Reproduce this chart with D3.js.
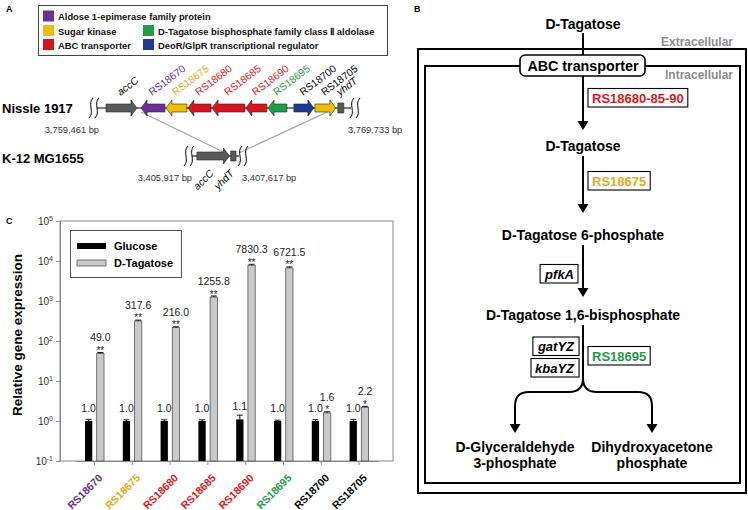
<!DOCTYPE html>
<html lang="en">
<head>
<meta charset="UTF-8">
<title>D-Tagatose operon figure</title>
<script src="https://d3js.org/d3.v7.min.js"></script>
<style>
  body { margin: 0; background: #fff; }
  svg { font-family: "Liberation Sans", Arial, sans-serif; }
</style>
</head>
<body>
<script>
// ---------- Panel A data (gene map, positions in bp from region start) ----------
var legendLabels = ["Aldose 1-epimerase family protein", "Sugar kinase",
  "D-Tagatose bisphosphate family class \u2161 aldolase", "ABC transporter",
  "DeoR/GlpR transcriptional regulator"];
var legendColors = ["#6b2f96", "#f0bf00", "#1f9e47", "#d9141e", "#1d3b94"];

var nissleNames  = ["accC", "RS18670", "RS18675", "RS18680", "RS18685", "RS18690", "RS18695", "RS18700", "RS18705", "yhdT"];
var nissleStart  = [250, 1700, 2730, 3640, 4640, 6040, 6960, 8030, 8900, 9850];
var nissleEnd    = [1530, 2690, 3600, 4600, 6000, 6910, 7740, 8860, 9770, 10100];
var nissleStrand = [1, -1, -1, -1, -1, -1, -1, 1, 1, 0];
var nissleFill   = ["#5a5a5a", "#6b2f96", "#f0bf00", "#d9141e", "#d9141e", "#d9141e", "#1f9e47", "#1d3b94", "#f0bf00", "#5a5a5a"];
var nissleText   = ["#000", "#6a2c91", "#e0ac1c", "#d7191c", "#d7191c", "#d7191c", "#1f9a48", "#000", "#000", "#000"];
var nissleRange  = ["3,759,461 bp", "3,769,733 bp"];

var k12Names  = ["accC", "yhdT"];
var k12Start  = [80, 1480];
var k12End    = [1430, 1700];
var k12Strand = [1, 0];
var k12Range  = ["3,405,917 bp", "3,407,617 bp"];

// ---------- Panel B data ----------
var metabolites = ["D-Tagatose", "D-Tagatose", "D-Tagatose 6-phosphate", "D-Tagatose 1,6-bisphosphate"];
var products = [["D-Glyceraldehyde", "3-phosphate"], ["Dihydroxyacetone", "phosphate"]];
var enzymeNames  = ["RS18680-85-90", "RS18675", "pfkA", "gatYZ", "kbaYZ", "RS18695"];
var enzymeColors = ["#d7191c", "#e0ac1c", "#000", "#000", "#000", "#1f9a48"];
var enzymeItalic = [false, false, true, true, true, false];

// ---------- Panel C data ----------
var genes = ["RS18670", "RS18675", "RS18680", "RS18685", "RS18690", "RS18695", "RS18700", "RS18705"];
var geneColors = ["#6a2c91", "#e0ac1c", "#d7191c", "#d7191c", "#d7191c", "#1f9a48", "#000", "#000"];
var glucose    = [1.0, 1.0, 1.0, 1.0, 1.1, 1.0, 1.0, 1.0];
var glucoseErr = [0.10, 0.07, 0.07, 0.07, 0.30, 0.05, 0.08, 0.10];
var tagatose    = [49.0, 317.6, 216.0, 1255.8, 7830.3, 6721.5, 1.6, 2.2];
var tagatoseErr = [2.5, 15, 10, 80, 450, 400, 0.1, 0.12];
var stars = ["**", "**", "**", "**", "**", "**", "*", "*"];
var yTickPowers = [-1, 0, 1, 2, 3, 4, 5];
var seriesNames = ["Glucose", "D-Tagatose"];

var svg = d3.select("body").append("svg")
    .attr("width", 748).attr("height", 510);

// panel letters
svg.append("text").attr("x", 6).attr("y", 12).text("A").style("font-size", "9px").style("font-weight", "bold");
svg.append("text").attr("x", 414).attr("y", 12).text("B").style("font-size", "9px").style("font-weight", "bold");
svg.append("text").attr("x", 6).attr("y", 224).text("C").style("font-size", "9px").style("font-weight", "bold");

// ================= Panel A =================
var gA = svg.append("g");
gA.append("rect").attr("x", 38.5).attr("y", 5.5).attr("width", 349).attr("height", 50)
  .attr("fill", "#fff").attr("stroke", "#444").attr("stroke-width", 1);

var legendPos = [[0, 0], [0, 1], [1, 1], [0, 2], [1, 2]];
var legendColX = [43, 143], legendRowY = [10.5, 25, 39];
legendLabels.forEach(function(lab, i) {
  var p = legendPos[i];
  gA.append("rect").attr("x", legendColX[p[0]]).attr("y", legendRowY[p[1]])
    .attr("width", 11).attr("height", 11).attr("fill", legendColors[i]);
  gA.append("text").attr("x", legendColX[p[0]] + 15).attr("y", legendRowY[p[1]] + 9.5)
    .text(lab).style("font-size", "9.4px").style("font-weight", "bold").attr("fill", "#111");
});

function genePath(s, e, strand) {
  var h = 4, H = 8, hd = 6;
  if (strand === 1) return "M" + s + "," + (-h) + "L" + (e - hd) + "," + (-h) + "L" + (e - hd) + "," + (-H) +
    "L" + e + ",0L" + (e - hd) + "," + H + "L" + (e - hd) + "," + h + "L" + s + "," + h + "Z";
  if (strand === -1) return "M" + e + "," + (-h) + "L" + (s + hd) + "," + (-h) + "L" + (s + hd) + "," + (-H) +
    "L" + s + ",0L" + (s + hd) + "," + H + "L" + (s + hd) + "," + h + "L" + e + "," + h + "Z";
  return "M" + s + ",-5L" + e + ",-5L" + e + ",5L" + s + ",5Z";
}

function squiggle(g, x) {
  g.append("path")
    .attr("d", "M" + (x + 2) + ",-10 C" + (x - 4) + ",-4 " + (x + 4) + ",4 " + (x - 2) + ",10")
    .attr("fill", "none").attr("stroke", "#000").attr("stroke-width", 1);
}

var xN = d3.scaleLinear().domain([0, 10272]).range([100, 348]);
var xK = d3.scaleLinear().domain([0, 1700]).range([195, 236]);
var yN = 108, yK = 156;

// connecting lines
gA.append("line").attr("x1", xN(nissleStart[1])).attr("y1", yN + 4)
  .attr("x2", xK(k12End[0]) - 4).attr("y2", yK - 3)
  .attr("stroke", "#a6a6a6").attr("stroke-width", 1.3);
gA.append("line").attr("x1", xN(nissleEnd[8])).attr("y1", yN)
  .attr("x2", xK(k12End[1]) + 3).attr("y2", yK - 3)
  .attr("stroke", "#a6a6a6").attr("stroke-width", 1.3);

function drawTrack(g, x, names, starts, ends, strands, fills) {
  var dom = x.domain();
  g.append("line").attr("x1", x(dom[0]) - 3).attr("x2", x(dom[1]) + 3)
    .attr("y1", 0).attr("y2", 0).attr("stroke", "#000").attr("stroke-width", 1);
  names.forEach(function(n, i) {
    g.append("path").attr("d", genePath(x(starts[i]), x(ends[i]), strands[i]))
      .attr("fill", fills[i]).attr("stroke", "#222").attr("stroke-width", 0.6);
  });
  squiggle(g, x(dom[0]) - 9); squiggle(g, x(dom[0]) - 3);
  squiggle(g, x(dom[1]) + 4); squiggle(g, x(dom[1]) + 10);
}

var tN = gA.append("g").attr("transform", "translate(0," + yN + ")");
drawTrack(tN, xN, nissleNames, nissleStart, nissleEnd, nissleStrand, nissleFill);
var tK = gA.append("g").attr("transform", "translate(0," + yK + ")");
drawTrack(tK, xK, k12Names, k12Start, k12End, k12Strand, ["#5a5a5a", "#5a5a5a"]);

// gene labels (Nissle, above)
nissleNames.forEach(function(n, i) {
  var mx = xN((nissleStart[i] + nissleEnd[i]) / 2) - 1;
  gA.append("text").attr("transform", "translate(" + mx + ",96) rotate(-37)")
    .text(n).attr("fill", nissleText[i]).style("font-size", "10.3px")
    .style("font-style", (n === "accC" || n === "yhdT") ? "italic" : "normal");
});
// gene labels (K-12, below)
k12Names.forEach(function(n, i) {
  var mx = xK((k12Start[i] + k12End[i]) / 2) + 1;
  gA.append("text").attr("transform", "translate(" + mx + ",174) rotate(-45)")
    .attr("text-anchor", "end").text(n).style("font-size", "10.3px").style("font-style", "italic");
});

gA.append("text").attr("x", 2).attr("y", 112.5).text("Nissle 1917").style("font-size", "13px").style("font-weight", "bold");
gA.append("text").attr("x", 2).attr("y", 162.5).text("K-12 MG1655").style("font-size", "13px").style("font-weight", "bold");

gA.append("text").attr("x", xN(0) - 1).attr("y", 133).attr("text-anchor", "end").text(nissleRange[0]).style("font-size", "9.3px").attr("fill", "#333");
gA.append("text").attr("x", xN(10272)).attr("y", 133).text(nissleRange[1]).style("font-size", "9.3px").attr("fill", "#333");
gA.append("text").attr("x", xK(0) - 3).attr("y", 181).attr("text-anchor", "end").text(k12Range[0]).style("font-size", "9.3px").attr("fill", "#333");
gA.append("text").attr("x", xK(1700) + 6).attr("y", 181).text(k12Range[1]).style("font-size", "9.3px").attr("fill", "#333");

// ================= Panel B =================
var gB = svg.append("g");
var cx = 583;
gB.append("rect").attr("x", 418).attr("y", 49).attr("width", 328).attr("height", 444)
  .attr("fill", "none").attr("stroke", "#000").attr("stroke-width", 2);
gB.append("rect").attr("x", 425).attr("y", 66).attr("width", 315).attr("height", 417)
  .attr("fill", "none").attr("stroke", "#000").attr("stroke-width", 2);
gB.append("text").attr("x", 733).attr("y", 45.5).attr("text-anchor", "end").text("Extracellular")
  .attr("fill", "#8c8c8c").style("font-size", "12px").style("font-weight", "bold");
gB.append("text").attr("x", 733).attr("y", 78.5).attr("text-anchor", "end").text("Intracellular")
  .attr("fill", "#8c8c8c").style("font-size", "12px").style("font-weight", "bold");

function arrowHead(g, x, y) {
  g.append("path").attr("d", "M" + (x - 5.5) + "," + (y - 9) + "L" + (x + 5.5) + "," + (y - 9) + "L" + x + "," + y + "Z")
    .attr("fill", "#000");
}
function vline(g, x, y1, y2) {
  g.append("line").attr("x1", x).attr("x2", x).attr("y1", y1).attr("y2", y2)
    .attr("stroke", "#000").attr("stroke-width", 2);
}

var stepY = [29, 151, 240, 320];
vline(gB, cx, 33, 56);
vline(gB, cx, 76, 122); arrowHead(gB, cx, 130);
vline(gB, cx, 156, 205); arrowHead(gB, cx, 213);
vline(gB, cx, 245, 289); arrowHead(gB, cx, 297);
vline(gB, cx, 325, 380);
// branch
gB.append("path").attr("d", "M" + cx + ",378 Q" + cx + ",392 " + (cx - 14) + ",392 H" + 529 + " Q515,392 515,406 V425")
  .attr("fill", "none").attr("stroke", "#000").attr("stroke-width", 2);
gB.append("path").attr("d", "M" + cx + ",378 Q" + cx + ",392 " + (cx + 14) + ",392 H" + 638 + " Q652,392 652,406 V425")
  .attr("fill", "none").attr("stroke", "#000").attr("stroke-width", 2);
arrowHead(gB, 515, 433);
arrowHead(gB, 652, 433);

// ABC transporter box
gB.append("rect").attr("x", 520).attr("y", 55).attr("width", 125).attr("height", 21).attr("rx", 5)
  .attr("fill", "#fff").attr("stroke", "#000").attr("stroke-width", 1.6);
gB.append("text").attr("x", cx).attr("y", 71).attr("text-anchor", "middle").text("ABC transporter")
  .style("font-size", "14.3px").style("font-weight", "bold");

metabolites.forEach(function(m, i) {
  gB.append("text").attr("x", cx).attr("y", stepY[i]).attr("text-anchor", "middle").text(m)
    .style("font-size", "14px").style("font-weight", "bold");
});
var prodX = [515, 652];
products.forEach(function(p, i) {
  p.forEach(function(line, j) {
    gB.append("text").attr("x", prodX[i]).attr("y", 452 + j * 16).attr("text-anchor", "middle").text(line)
      .style("font-size", "14px").style("font-weight", "bold");
  });
});

// enzyme boxes: [x, baseline, anchor]
var enzPos = [[592, 102.5, "start"], [592, 185.5, "start"], [574, 278.5, "end"], [574, 351, "end"], [574, 372.5, "end"], [592, 360.5, "start"]];
enzymeNames.forEach(function(n, i) {
  var p = enzPos[i];
  var t = gB.append("text").attr("x", p[0]).attr("y", p[1]).attr("text-anchor", p[2]).text(n)
    .attr("fill", enzymeColors[i]).style("font-size", "13px").style("font-weight", "bold")
    .style("font-style", enzymeItalic[i] ? "italic" : "normal");
  var bb = t.node().getBBox();
  gB.insert("rect", "text").attr("x", bb.x - 4).attr("y", p[1] - 14).attr("width", bb.width + 8).attr("height", 18.5)
    .attr("fill", "#fff").attr("stroke", "#000").attr("stroke-width", 1.1);
});

// ================= Panel C =================
var gC = svg.append("g");
var plotL = 60, plotR = 393, plotT = 221, plotB = 461;
var y = d3.scaleLog().domain([0.1, 1e5]).range([plotB, plotT]);
var x = d3.scaleBand().domain(genes).range([75.6, 378]);
var xs = d3.scaleBand().domain(seriesNames).range([9.4, 28.4]).paddingInner(0.38);

// frame
gC.append("rect").attr("x", plotL).attr("y", plotT).attr("width", plotR - plotL).attr("height", plotB - plotT)
  .attr("fill", "none").attr("stroke", "#8a8a8a").attr("stroke-width", 1);

var yAxis = gC.append("g").attr("transform", "translate(" + plotL + ",0)")
  .call(d3.axisLeft(y).tickValues(yTickPowers.map(function(p) { return Math.pow(10, p); }))
    .tickSize(4).tickSizeOuter(0).tickFormat(""));
yAxis.selectAll("path, line").attr("stroke", "#8a8a8a");
yAxis.selectAll(".tick").each(function(d, i) {
  var t = d3.select(this).append("text").attr("x", -7).attr("dy", "0.35em")
    .attr("text-anchor", "end").attr("fill", "#333").style("font-size", "10px");
  t.append("tspan").text("10");
  t.append("tspan").text(yTickPowers[i]).attr("dy", "-0.55em").style("font-size", "7px");
});

var xAxis = gC.append("g").attr("transform", "translate(0," + plotB + ")")
  .call(d3.axisBottom(x).tickSize(4).tickSizeOuter(0));
xAxis.select(".domain").attr("stroke", "#8a8a8a");
xAxis.selectAll("line").attr("stroke", "#8a8a8a");
xAxis.selectAll("text")
  .attr("x", 0).attr("y", 0).attr("dy", "0.35em")
  .attr("transform", "translate(6,15) rotate(-45)")
  .style("text-anchor", "end").style("font-size", "10.6px").style("font-weight", "bold")
  .style("font-family", "'Liberation Sans', Arial, sans-serif")
  .attr("fill", function(d, i) { return geneColors[i]; });

// bars
var groups = gC.selectAll(".grp").data(genes).enter().append("g")
  .attr("transform", function(d) { return "translate(" + x(d) + ",0)"; });

groups.append("rect")
  .attr("x", xs("Glucose")).attr("width", xs.bandwidth())
  .attr("y", function(d, i) { return y(glucose[i]); })
  .attr("height", function(d, i) { return plotB - y(glucose[i]); })
  .attr("fill", "#000");
groups.append("rect")
  .attr("x", xs("D-Tagatose")).attr("width", xs.bandwidth())
  .attr("y", function(d, i) { return y(tagatose[i]); })
  .attr("height", function(d, i) { return plotB - y(tagatose[i]); })
  .attr("fill", "#c9c9c9").attr("stroke", "#555").attr("stroke-width", 0.8);

function errBar(sel, series, vals, errs) {
  var cxs = xs(series) + xs.bandwidth() / 2;
  sel.append("path").attr("d", function(d, i) {
    var y1 = y(vals[i] + errs[i]), y0 = y(vals[i]);
    return "M" + cxs + "," + y0 + "V" + y1 + "M" + (cxs - 3) + "," + y1 + "H" + (cxs + 3);
  }).attr("stroke", "#000").attr("stroke-width", 0.9).attr("fill", "none");
}
errBar(groups, "Glucose", glucose, glucoseErr);
errBar(groups, "D-Tagatose", tagatose, tagatoseErr);

groups.append("text")
  .attr("x", xs("Glucose") + xs.bandwidth() / 2)
  .attr("y", function(d, i) { return y(glucose[i]) - 9; })
  .attr("text-anchor", "middle").attr("fill", "#222").style("font-size", "10.5px")
  .text(function(d, i) { return glucose[i].toFixed(1); });
groups.append("text")
  .attr("x", xs("D-Tagatose") + xs.bandwidth() / 2)
  .attr("y", function(d, i) { return y(tagatose[i]) - 12; })
  .attr("text-anchor", "middle").attr("fill", "#222").style("font-size", "10.5px")
  .text(function(d, i) { return tagatose[i].toFixed(1); });
groups.append("text")
  .attr("x", xs("D-Tagatose") + xs.bandwidth() / 2)
  .attr("y", function(d, i) { return y(tagatose[i]) + 0.5; })
  .attr("text-anchor", "middle").attr("fill", "#222").style("font-size", "10px")
  .text(function(d, i) { return stars[i]; });

// legend
gC.append("rect").attr("x", 70.5).attr("y", 230.5).attr("width", 111).attr("height", 47)
  .attr("fill", "#fff").attr("stroke", "#555").attr("stroke-width", 1);
gC.append("rect").attr("x", 77).attr("y", 243).attr("width", 29).attr("height", 6).attr("fill", "#000");
gC.append("rect").attr("x", 77).attr("y", 260).attr("width", 29).attr("height", 6)
  .attr("fill", "#c9c9c9").attr("stroke", "#555").attr("stroke-width", 0.8);
seriesNames.forEach(function(s, i) {
  gC.append("text").attr("x", 114).attr("y", 250 + i * 17).text(s)
    .style("font-size", "11px").style("font-weight", "bold");
});

// y title
gC.append("text").attr("transform", "translate(17,335) rotate(-90)").attr("dy", "0.35em")
  .attr("text-anchor", "middle").text("Relative gene expression")
  .style("font-size", "13.5px").style("font-weight", "bold");
</script>
</body>
</html>
